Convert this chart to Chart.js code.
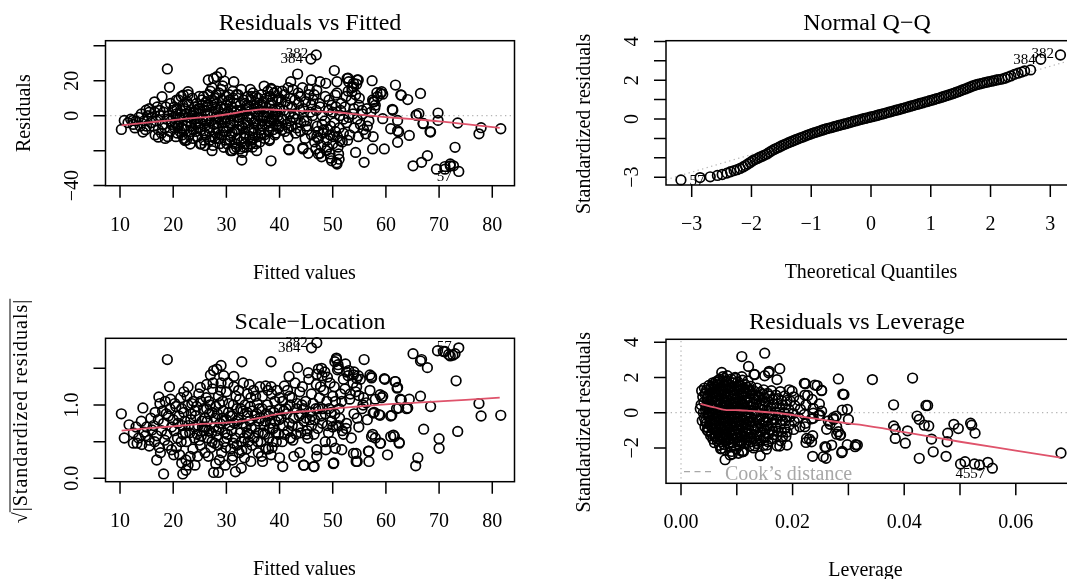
<!DOCTYPE html>
<html>
<head>
<title>lm diagnostics</title>
<script src="https://cdn.jsdelivr.net/npm/chart.js"></script>
<style>
html, body { margin: 0; padding: 0; overflow: hidden; background: #fff; }
body { position: relative; width: 1067px; height: 579px; }
canvas { position: absolute; }
</style>
</head>
<body>
<canvas id="rvf" width="533" height="290" style="left:0px;top:0px"></canvas>
<canvas id="qq" width="560" height="290" style="left:533px;top:0px"></canvas>
<canvas id="sl" width="533" height="289" style="left:0px;top:290px"></canvas>
<canvas id="lev" width="560" height="289" style="left:533px;top:290px"></canvas>
<script>
// ---- data ----
const fittedTicks = [10, 20, 30, 40, 50, 60, 70, 80];
const fittedTickLabels = ['10', '20', '30', '40', '50', '60', '70', '80'];
const residTicks = [-40, -20, 0, 20, 40];
const residTickLabels = ['\u221240', '', '0', '20', ''];
const qqXTicks = [-3, -2, -1, 0, 1, 2, 3];
const qqXTickLabels = ['\u22123', '\u22122', '\u22121', '0', '1', '2', '3'];
const qqYTicks = [-3, -2, -1, 0, 1, 2, 3, 4];
const qqYTickLabels = ['\u22123', '', '', '0', '', '2', '', '4'];
const slYTicks = [0, 0.5, 1, 1.5];
const slYTickLabels = ['0.0', '', '1.0', ''];
const levXTicks = [0, 0.01, 0.02, 0.03, 0.04, 0.05, 0.06, 0.07];
const levXTickLabels = ['0.00', '', '0.02', '', '0.04', '', '0.06', ''];
const levYTicks = [-2, 0, 2, 4];
const levYTickLabels = ['\u22122', '0', '2', '4'];

// Residuals vs Fitted
const rvfOuter = [[10.25,-7.9],[10.8,-2.7],[12.4,-2.7],[14.3,-9.4],[14.9,3.1],[16.5,7.9],[17.2,-12.3],[17.9,10.8],[18.9,26.7],[19.3,16.2],[20.6,8.8],[21.9,11.7],[22.8,13.7],[22.2,-14.2],[23.2,-16.2],[25.1,-16.2],[26.0,-17.1],[27.3,-20],[26.6,20.4],[27.6,21.3],[28.2,22.3],[29.0,24.6],[29.6,19.8],[31.4,19.4],[29.5,-18.1],[31.1,-20],[32.9,-25.4],[33.3,-18.1],[34.6,-16.2],[37.1,16.9],[38.4,15.6],[38.1,-14.2],[38.4,-25.8],[41.6,-12.3],[41.8,-19.6],[42.1,19.4],[43.4,23.8],[44.4,-19],[45.4,-21.5],[46.0,20.4],[47.0,14.6],[47.6,19.4],[47.3,-21.9],[47.9,-23.5],[48.7,18.5],[49.5,-21.9],[50.3,25.8],[50.8,19.4],[50.5,11.7],[49.8,-25.8],[50.8,-27.7],[51.1,-21.9],[51.4,-14.2],[52.7,21.3],[53.0,19.4],[53.9,16.5],[54.6,20.4],[53.6,13.7],[54.3,-21],[55.9,-26.7],[56.2,-10.4],[57.4,20],[57.5,-19],[57.8,7.9],[58.4,10.8],[59.0,12.7],[59.4,12.3],[59.7,-19],[59.4,-1.7],[60.9,-7.5],[61.3,3.1],[61.8,17.5],[62.2,-2.7],[62.4,-9.4],[62.2,-15.2],[62.9,11.7],[64.1,9.2],[64.4,-11.3],[65.1,-28.7],[65.7,0.2],[66.2,1.2],[66.5,12.7],[67,-4.6],[66.7,-26.7],[67.8,-22.9],[68.4,-9.4],[69.8,1.5],[69.8,-2.7],[69.5,-30.6],[71.1,-30.6],[72.1,-28.7],[72.7,-28.7],[73.0,-18.1],[73.5,-4.2],[73.7,-31.9],[77.5,-10.4],[77.9,-6.9],[81.6,-7.5],[46.9,34.7],[45.9,32.4],[58.3,13.1],[59.2,13.7],[57.6,8],[57.9,4.2],[53.9,18.5],[54.8,20.4],[52.9,21.4],[51.2,-24.9],[50.7,-26.9],[49.6,-24.3],[47.6,-21.5],[44.4,-18.3],[41.7,-19.2],[38.1,-13.5],[62.8,11.8],[61.2,3.6],[62.2,-8.6],[67.0,-4.4],[68.3,-9.1],[65.7,0.4],[72.1,-27.6],[71.1,-29.1]];
const rvfCore = [[11.5,-4],[12,-2],[12.5,-5],[13,-3],[13.5,-1],[13.8,-6],[12.8,-7],[14,1],[14.5,-3],[15,-6],[15.2,0],[15.5,2],[15.8,-4],[14.8,-8],[16,-1],[15.5,4],[16.3,-6],[16.5,2],[16.8,-3],[17,5],[17.2,-8],[17.5,0],[17.8,-10],[17.5,3],[16.6,-11],[18,-5],[18.2,2],[18.4,-7],[18.6,5],[18.8,-2],[19,-12],[19.2,0],[19.5,7],[19.7,-5],[19.9,3],[18.5,-13],[19.4,-9],[20,-1],[20.2,5],[20.4,-4],[20.6,1],[20.8,-10],[21,9],[21.2,-2],[21.4,3],[21.6,-7],[21.8,6],[22,-13],[20.5,-12],[21.5,11],[22,0],[21,-5],[22.2,4],[22.4,-6],[22.6,8],[22.8,-1],[23,-11],[23.2,2],[23.4,-4],[23.6,10],[23.8,-8],[24,5],[22.5,-14],[23.5,0],[24,-2],[22.8,12],[23.3,-9],[24.2,-5],[24.4,7],[24.6,-12],[24.8,1],[25,4],[25.2,-8],[25.4,9],[25.6,-2],[25.8,-14],[26,3],[24.5,-1],[25.5,6],[26,-6],[24.9,11],[25.3,-16],[26.2,8],[26.4,-3],[26.6,12],[26.8,-9],[27,2],[27.2,-12],[27.4,6],[27.6,-5],[27.8,10],[28,-1],[26.5,0],[27,14],[27.5,-17],[28,4],[26.8,-7],[27.3,16],[28,-10],[28.2,7],[28.4,-4],[28.6,13],[28.8,-11],[29,1],[29.2,9],[29.4,-7],[29.6,4],[29.8,-14],[30,11],[28.5,-1],[29,15],[29.5,-2],[30,6],[28.8,-16],[29.3,17],[30,-9],[28.4,3],[30.2,2],[30.4,-6],[30.6,9],[30.8,-12],[31,5],[31.2,14],[31.4,-3],[31.6,-16],[31.8,7],[32,-8],[30.5,12],[31,0],[31.5,-19],[32,3],[30.8,-20],[31.3,10],[32,-13],[30.3,-2],[32.2,12],[32.4,-5],[32.6,6],[32.8,-15],[33,1],[33.2,9],[33.4,-10],[33.6,3],[33.8,-18],[34,11],[32.5,-1],[33,-21],[33.5,7],[34,-4],[32.8,15],[33.3,-13],[34,0],[32.3,-8],[34.2,5],[34.4,-12],[34.6,9],[34.8,-2],[35,13],[35.2,-7],[35.4,2],[35.6,-16],[35.8,7],[36,-5],[34.5,15],[35,-10],[35.5,11],[36,0],[34.8,-14],[35.3,4],[36,10],[36.2,3],[36.4,-8],[36.6,12],[36.8,-3],[37,8],[37.2,-13],[37.4,5],[37.6,-1],[37.8,14],[38,2],[36.5,-10],[37,0],[37.5,10],[38,-6],[36.8,6],[37.3,-5],[38.2,11],[38.4,-2],[38.6,6],[38.8,-8],[39,13],[39.2,1],[39.4,-5],[39.6,9],[39.8,-7],[40,4],[38.5,15],[39,-3],[39.5,14],[40,-6],[38.8,3],[39.7,0],[40.3,8],[40.6,-2],[40.9,12],[41.2,-5],[41.5,6],[41.8,1],[42,10],[40.5,14],[41,-9],[41.6,16],[42,-3],[40.8,3],[42.3,5],[42.6,-1],[42.9,9],[43.2,-7],[43.5,13],[43.8,3],[44,-4],[42.5,15],[43,-10],[43.6,7],[44,11],[42.8,1],[44.3,16],[44.6,-3],[44.9,8],[45.2,-8],[45.5,12],[45.8,2],[46,-11],[44.5,4],[45,-6],[45.6,15],[46,6],[44.8,-13],[46.3,9],[46.6,-15],[46.9,3],[47.2,-9],[47.5,7],[47.8,-17],[48,0],[46.5,12],[47,-12],[47.6,5],[48,-5],[46.8,-19],[47.3,-13],[48.3,-8],[48.6,11],[48.9,-14],[49.2,3],[49.5,-11],[49.8,6],[50,-16],[48.5,-3],[49,-18],[49.6,-6],[50,2],[48.8,-20],[49.3,9],[50.3,-4],[50.6,5],[50.9,-12],[51.2,-7],[51.5,3],[51.8,-15],[52,-2],[50.5,-9],[51,-18],[51.6,7],[52,-10],[50.8,13],[51.3,0],[52.3,5],[52.6,-4],[52.9,14],[53.2,-11],[53.5,9],[53.8,1],[54,-7],[52.5,11],[53,-1],[53.6,16],[54,4],[52.8,-14],[54.3,12],[54.6,-2],[54.9,6],[55.2,-5],[55.5,3],[55.8,-8],[54.5,18],[55,10],[55.6,1],[54.8,-12],[56.4,4],[56.8,-3],[57.2,2],[57.6,-12],[58,6],[56.5,-6],[57.5,9]];
const rvfFill = [[21.3,-9],[22.7,-3],[23.9,2],[24.7,-7],[25.9,-10],[26.3,5],[27.9,-13],[28.3,-7],[29.7,-4],[30.1,-16],[31.5,-9],[32.1,-1],[32.9,-6],[33.7,-12],[34.3,-8],[35.1,-4],[35.9,-12],[36.3,-15],[37.9,-9],[38.3,7],[39.3,-10],[39.9,10],[31.9,-18],[32.6,-19],[34.9,-18],[35.7,-20],[30.7,-14],[29.2,-11],[27.7,8],[26.1,-3],[24.3,3],[22.1,-8],[20.9,-6],[19.6,-3],[30.9,3],[33.9,6],[36.9,-1],[38.9,-1],[20.3,-7],[20.7,4],[21.3,-1],[21.7,-11],[22.3,1],[22.9,6],[23.3,-6],[23.7,-13],[24.3,-9],[24.7,4],[25.1,-4],[25.7,11],[26.1,-11],[26.5,6],[26.9,-14],[27.1,-3],[27.7,1],[28.1,12],[28.5,-13],[28.9,5],[29.1,-4],[29.5,-9],[29.9,-1],[30.3,8],[30.7,-4],[31.1,-10],[31.5,2],[31.9,12],[32.3,-3],[32.7,3],[33.1,-7],[33.5,-16],[33.9,4],[34.3,-1],[34.7,11],[35.1,-13],[35.5,-3],[35.9,4],[36.3,6],[36.7,-6],[37.1,-11],[37.5,2],[37.9,-3],[38.3,-4],[38.7,9],[39.1,-11],[39.5,3],[39.9,-3],[40.4,-8],[41.1,8],[41.7,-7],[42.2,-6],[43.1,-2],[43.9,-9],[45.1,-3],[46.2,0],[47.1,-6],[48.2,-10],[49.1,-8],[50.1,-12]];
const rvfSmooth = [[10.3,-5.5],[15,-4],[19,-2.8],[23,-1.6],[27.5,-0.4],[31,1.2],[34,2.7],[37,3.6],[40,3.2],[45,2.6],[50,2.1],[55,0.6],[60,-0.8],[65,-2.0],[70,-3.3],[75,-4.9],[81.4,-7.0]];

// Normal Q-Q
const qqTheo = [-3.18,-2.86,-2.69,-2.57,-2.49,-2.41,-2.35,-2.29,-2.24,-2.19,-2.14,-2.10,-2.06,-2.02,-1.98,-1.94,-1.90,-1.86,-1.82,-1.78,-1.74,-1.70,-1.66,-1.62,-1.58,-1.54,-1.50,-1.46,-1.42,-1.38,-1.34,-1.30,-1.26,-1.22,-1.18,-1.14,-1.10,-1.06,-1.02,-0.98,-0.94,-0.90,-0.86,-0.82,-0.78,-0.74,-0.70,-0.66,-0.62,-0.58,-0.54,-0.50,-0.46,-0.42,-0.38,-0.34,-0.30,-0.26,-0.22,-0.18,-0.14,-0.10,-0.06,-0.02,0.02,0.06,0.10,0.14,0.18,0.22,0.26,0.30,0.34,0.38,0.42,0.46,0.50,0.54,0.58,0.62,0.66,0.70,0.74,0.78,0.82,0.86,0.90,0.94,0.98,1.02,1.06,1.10,1.14,1.18,1.22,1.26,1.30,1.34,1.38,1.42,1.46,1.50,1.54,1.58,1.62,1.66,1.70,1.74,1.78,1.82,1.86,1.90,1.94,1.98,2.02,2.06,2.10,2.14,2.19,2.24,2.29,2.34,2.40,2.46,2.52,2.57,2.67,2.84,3.17];
const qqStdRes = [-3.14,-3.02,-2.98,-2.91,-2.86,-2.79,-2.72,-2.66,-2.61,-2.55,-2.47,-2.40,-2.32,-2.24,-2.15,-2.09,-2.03,-1.97,-1.92,-1.86,-1.80,-1.72,-1.64,-1.57,-1.51,-1.45,-1.39,-1.33,-1.28,-1.22,-1.17,-1.12,-1.07,-1.02,-0.97,-0.93,-0.88,-0.83,-0.79,-0.74,-0.70,-0.66,-0.62,-0.58,-0.54,-0.50,-0.47,-0.44,-0.40,-0.37,-0.33,-0.30,-0.27,-0.24,-0.20,-0.17,-0.13,-0.10,-0.07,-0.03,0.00,0.03,0.06,0.09,0.12,0.15,0.18,0.22,0.25,0.28,0.32,0.35,0.38,0.42,0.45,0.48,0.52,0.55,0.59,0.62,0.66,0.69,0.73,0.76,0.80,0.83,0.87,0.90,0.94,0.97,1.01,1.05,1.08,1.12,1.16,1.20,1.24,1.28,1.32,1.37,1.41,1.46,1.51,1.55,1.60,1.65,1.70,1.74,1.78,1.81,1.84,1.87,1.90,1.93,1.95,1.98,2.01,2.03,2.06,2.10,2.16,2.22,2.30,2.36,2.42,2.48,2.53,3.08,3.30];
const qqLineX = [-3.43, 3.43];
const qqLineY = [-3.13, 3.11];

// Scale-Location
const slOuter = [[10.25,0.88],[10.8,0.55],[11.7,0.73],[12.5,0.48],[14.3,0.96],[14.1,0.46],[15.5,0.44],[16.9,0.25],[17.3,1.11],[17.6,0.35],[18.2,0.06],[18.9,1.62],[19.3,1.25],[19.7,0.39],[20.1,0.32],[21.6,0.21],[21.8,0.06],[22.4,0.11],[22.8,1.25],[22.8,0.18],[24.1,0.18],[25.1,1.24],[26.3,1.28],[27.0,1.41],[27.6,1.47],[28.2,1.49],[29.0,1.54],[29.5,1.40],[27.6,0.08],[28.5,0.08],[29.8,0.18],[31.1,0.25],[31.4,1.39],[31.7,0.09],[32.9,1.59],[32.8,0.14],[34.3,1.28],[34.6,0.23],[36.8,0.23],[37.4,1.26],[38.4,1.59],[38.4,0.32],[40.0,0.28],[40.6,0.16],[40.9,1.26],[41.8,1.39],[42.1,0.55],[42.7,0.30],[43.4,1.51],[43.8,0.35],[44.6,0.18],[45.1,0.60],[45.4,1.44],[46.5,0.16],[47.0,0.39],[47.0,0.30],[47.3,1.49],[47.9,1.50],[48.7,0.39],[48.6,0.50],[49.8,0.50],[50.2,0.21],[50.5,0.41],[50.7,1.62],[51.1,1.50],[51.7,0.39],[52.4,1.56],[53.0,1.47],[53.9,0.34],[54.4,0.23],[54.8,1.40],[54.9,1.13],[55.9,1.62],[56.3,1.03],[56.8,0.37],[56.8,0.23],[57.3,1.39],[57.6,0.89],[58.0,0.55],[58.7,0.87],[59.0,0.48],[59.4,1.12],[59.7,1.36],[60.3,0.32],[61.1,0.86],[60.9,0.57],[61.6,0.57],[61.8,1.32],[62.2,1.24],[62.5,0.49],[62.9,1.07],[62.4,0.96],[64.1,0.96],[64.4,1.08],[65.1,1.70],[65.6,0.17],[66.0,0.28],[66.5,1.12],[66.7,1.62],[67.1,0.67],[67.8,1.51],[68.4,0.98],[69.7,1.74],[70.0,0.54],[70.0,0.41],[71.1,1.73],[71.8,1.69],[72.1,1.67],[73.0,1.70],[73.2,1.33],[73.5,0.64],[73.7,1.78],[77.5,1.02],[77.9,0.85],[81.6,0.86],[47.0,1.85],[46.0,1.78],[66.5,1.60],[70.8,1.73],[72.6,1.68],[62.7,1.08],[63.9,0.95],[62.0,0.95],[60.9,0.85],[58.9,0.86],[57.8,0.90],[61.4,0.59],[62.5,0.48],[58.9,0.48],[57.3,0.57],[56.7,0.37],[54.6,0.23],[54.4,0.34],[50.1,0.20],[46.4,0.16],[44.5,0.18],[59.8,1.35],[61.7,1.32],[62.1,1.23],[58.9,1.14],[59.2,1.10],[57.3,1.37],[57.0,1.41],[53.9,1.41],[54.5,1.36],[52.6,1.45],[50.7,1.64],[50.4,1.59],[55.7,1.00]];
const slCore = [[12.5,0.62],[13,0.7],[13.5,0.55],[14,0.78],[14.5,0.63],[15,0.7],[15.5,0.52],[15.8,0.82],[13.2,0.48],[14.8,0.58],[16,0.66],[16.3,0.72],[16.6,0.9],[16.9,0.58],[17.2,0.8],[17.5,1.02],[17.8,0.65],[16.5,0.5],[17.4,0.42],[18,0.92],[18.2,0.75],[18.5,1.05],[18.8,0.6],[19.1,0.85],[19.4,0.95],[19.7,0.7],[18.4,0.52],[19,0.45],[20,0.8],[19.5,1.08],[18.7,0.88],[20.2,0.65],[20.5,0.98],[20.8,0.55],[21.1,0.85],[21.4,1.1],[21.7,0.72],[22,0.9],[20.6,0.42],[21.2,0.32],[21.8,0.6],[20.3,1.02],[22,1.18],[22.2,0.78],[22.5,0.5],[22.8,1.0],[23.1,0.62],[23.4,0.88],[23.7,0.4],[24,0.7],[22.6,1.12],[23.2,0.3],[23.8,1.05],[22.4,0.25],[24,0.55],[24.2,0.85],[24.5,0.6],[24.8,1.15],[25.1,0.45],[25.4,0.78],[25.7,0.95],[26,0.35],[24.6,0.3],[25.2,1.05],[25.8,0.65],[24.4,0.98],[26,0.82],[26.2,1.1],[26.5,0.55],[26.8,0.88],[27.1,0.42],[27.4,1.22],[27.7,0.7],[28,0.98],[26.6,0.3],[27.2,0.62],[27.8,0.48],[26.4,0.78],[27.5,1.3],[28,0.2],[26.9,1.0],[28.2,0.58],[28.5,1.12],[28.8,0.75],[29.1,0.35],[29.4,0.92],[29.7,0.62],[30,1.18],[28.4,0.45],[29,1.3],[29.6,0.5],[28.7,0.25],[30,0.8],[29.3,1.05],[28.3,0.88],[30.2,0.6],[30.5,1.02],[30.8,0.4],[31.1,0.85],[31.4,1.25],[31.7,0.55],[32,0.95],[30.6,0.72],[31.2,0.3],[31.8,1.12],[30.3,1.3],[32,0.45],[31,0.65],[32.2,0.8],[32.5,1.08],[32.8,0.5],[33.1,0.92],[33.4,0.28],[33.7,0.7],[34,1.15],[32.6,0.62],[33.2,1.3],[33.8,0.4],[32.4,0.35],[34,0.85],[33,0.75],[34.2,0.6],[34.5,0.98],[34.8,0.45],[35.1,1.2],[35.4,0.7],[35.7,0.88],[36,0.35],[34.6,1.1],[35.2,0.55],[35.8,1.02],[34.4,0.78],[36,0.62],[36.2,0.95],[36.5,0.5],[36.8,1.12],[37.1,0.72],[37.4,0.4],[37.7,1.0],[38,0.85],[36.6,0.3],[37.2,0.6],[37.8,1.2],[36.4,0.82],[38,0.55],[38.2,0.92],[38.5,1.15],[38.8,0.68],[39.1,1.05],[39.4,0.5],[39.7,0.85],[40,1.1],[38.6,0.42],[39.2,0.78],[39.8,0.6],[38.4,1.25],[40,0.95],[40.3,0.82],[40.6,1.05],[40.9,0.6],[41.2,0.95],[41.5,1.2],[41.8,0.75],[42,1.0],[40.5,0.5],[41.3,0.88],[42,0.55],[42.3,1.1],[42.6,0.82],[42.9,1.3],[43.2,0.95],[43.5,0.7],[43.8,1.18],[44,0.88],[42.5,0.52],[43.3,1.02],[44,0.62],[44.3,1.25],[44.6,0.78],[44.9,1.05],[45.2,0.65],[45.5,1.35],[45.8,0.9],[46,1.15],[44.5,0.95],[45.3,0.55],[46,0.72],[46.3,1.02],[46.6,0.8],[46.9,1.28],[47.2,0.68],[47.5,1.1],[47.8,0.85],[48,1.4],[46.5,0.6],[47.3,0.95],[48,0.75],[47,1.42],[48.3,1.2],[48.6,0.88],[48.9,1.05],[49.2,0.62],[49.5,1.3],[49.8,0.78],[50,1.12],[48.5,1.45],[49.3,0.95],[50,0.7],[49,1.38],[50.3,1.25],[50.6,0.72],[50.9,1.48],[51.2,0.95],[51.5,1.15],[51.8,0.65],[52,1.35],[50.5,1.05],[51.3,0.82],[52,0.6],[51,1.55],[52.3,1.22],[52.6,0.75],[52.9,1.4],[53.2,1.08],[53.5,0.55],[53.8,1.3],[54,0.88],[52.5,0.68],[53.3,1.15],[54,1.45],[54.3,1.18],[54.6,0.82],[54.9,0.7],[55.2,1.35],[55.5,0.95],[55.8,1.1],[54.5,1.25],[56.5,0.8],[57,1.2],[57.5,0.6],[58,1.08]];
const slFill = [[21.5,0.5],[22.9,0.72],[23.5,1.02],[24.9,0.52],[25.5,0.7],[26.7,0.65],[27.3,0.9],[28.6,0.68],[29.2,0.82],[29.9,0.42],[30.4,0.9],[31.5,0.75],[32.3,1.2],[32.9,0.38],[33.5,1.0],[34.1,0.5],[34.9,0.92],[35.5,1.12],[36.1,0.78],[36.9,0.62],[37.5,0.88],[38.1,0.68],[38.9,0.9],[39.5,1.2],[26.3,0.95],[28.9,1.2],[31.3,1.0],[33.9,0.62],[36.3,1.25],[38.7,0.5],[40.7,0.72],[41.9,1.12],[43.7,0.85],[45.7,0.8],[47.7,1.25],[49.7,0.9],[51.7,1.05],[20.9,0.75],[21.6,0.95],[22.3,0.62],[23.3,0.8],[24.1,0.92],[24.7,0.72],[25.3,0.58],[26.1,0.7],[26.7,1.05],[27.3,0.5],[27.9,0.82],[28.1,0.65],[28.7,1.02],[29.5,0.78],[30.1,0.55],[30.7,0.85],[31.3,0.48],[31.9,0.78],[32.7,0.95],[33.3,0.55],[33.9,0.9],[34.7,0.68],[35.3,0.85],[35.9,0.5],[36.7,0.95],[37.3,0.78],[37.9,0.4],[38.3,0.75],[39.3,0.62],[39.9,0.8],[40.8,0.92],[41.6,0.65],[42.4,0.72],[43.1,0.6],[44.2,1.0],[45.0,0.82],[46.1,0.85],[46.8,0.95],[48.1,0.95],[49.0,0.72],[50.4,0.88],[51.1,0.72]];
const slSmooth = [[10.3,0.65],[15,0.68],[20,0.71],[25,0.74],[30,0.76],[33,0.78],[36,0.82],[39,0.87],[42,0.9],[46,0.92],[50,0.95],[55,0.98],[60,1.01],[65,1.03],[70,1.05],[75,1.07],[81.4,1.10]];

// Residuals vs Leverage
const levOuter = [[0.00345,0.23],[0.0109,3.19],[0.0121,2.63],[0.0132,2.16],[0.0150,3.38],[0.0150,2.10],[0.0158,2.35],[0.0172,1.88],[0.0177,2.50],[0.0073,2.29],[0.0079,-2.67],[0.0073,-2.03],[0.0092,-2.35],[0.0110,-2.22],[0.0142,-2.44],[0.0132,-1.88],[0.0153,-2.07],[0.0172,-1.88],[0.0190,-1.84],[0.0199,1.22],[0.0223,1.65],[0.0224,-1.69],[0.0227,0.98],[0.0230,-1.5],[0.0236,-1.31],[0.0236,-2.48],[0.0244,1.54],[0.0252,1.28],[0.0252,0.09],[0.0260,-1.97],[0.0260,-2.59],[0.0261,-0.94],[0.0264,-0.47],[0.0273,-0.28],[0.0278,-0.19],[0.0282,1.92],[0.0279,-1.22],[0.0286,-1.26],[0.0289,0.15],[0.0292,1.03],[0.0289,-2.2],[0.0298,0.19],[0.0298,-1.82],[0.0300,-0.38],[0.0313,-1.82],[0.0316,-1.84],[0.0343,1.88],[0.0381,0.45],[0.0381,-0.75],[0.0384,-0.94],[0.0384,-1.46],[0.0402,-1.73],[0.0406,-1.03],[0.0415,1.97],[0.0423,-0.19],[0.0427,-0.38],[0.0427,-2.59],[0.0436,-0.71],[0.0439,0.41],[0.0442,0.41],[0.0444,-0.75],[0.0449,-1.5],[0.0452,-2.22],[0.0477,-1.65],[0.0478,-1.16],[0.0475,-2.48],[0.0489,-0.66],[0.0497,-0.9],[0.0501,-2.91],[0.0509,-2.78],[0.0519,-0.6],[0.0521,-0.71],[0.0527,-1.16],[0.0526,-2.91],[0.0535,-2.97],[0.0550,-2.82],[0.0558,-3.15],[0.0681,-2.29],[0.0131,2.18],[0.0157,2.27],[0.0221,1.67],[0.0240,1.57],[0.0252,1.25],[0.0290,1.06],[0.0088,-2.4],[0.0103,-2.31],[0.0112,-2.21],[0.0154,-1.84],[0.0177,-1.89],[0.0222,-0.8],[0.0237,-0.32],[0.0237,-0.03],[0.0249,-0.13],[0.0225,-1.46],[0.0234,-1.65],[0.0258,-1.93],[0.0255,-2.5],[0.0282,-1.08],[0.0285,-1.27],[0.0274,-0.38],[0.0267,-0.66],[0.0279,-0.8],[0.0270,-1.84],[0.0288,-2.27],[0.0312,-1.93]];
const levCore = [[0.0037,1.25],[0.0039,0.9],[0.0036,0.45],[0.0040,0.0],[0.0038,-0.45],[0.0042,1.4],[0.0043,1.05],[0.0041,0.6],[0.0044,0.15],[0.0042,-0.3],[0.0043,-0.8],[0.0046,1.3],[0.0047,0.8],[0.0045,0.3],[0.0048,-0.15],[0.0046,-0.6],[0.0047,-1.0],[0.0050,1.55],[0.0052,1.1],[0.0049,0.65],[0.0051,0.2],[0.0050,-0.25],[0.0052,-0.7],[0.0049,-1.05],[0.0053,1.35],[0.0054,1.45],[0.0056,0.95],[0.0053,0.5],[0.0055,0.05],[0.0054,-0.4],[0.0056,-0.85],[0.0055,-1.2],[0.0057,1.7],[0.0058,1.6],[0.0060,1.2],[0.0057,0.75],[0.0059,0.3],[0.0058,-0.1],[0.0060,-0.55],[0.0059,-0.95],[0.0061,-1.35],[0.0060,-1.7],[0.0062,1.75],[0.0064,1.35],[0.0061,0.9],[0.0063,0.45],[0.0062,0.0],[0.0064,-0.45],[0.0063,-0.9],[0.0062,-1.3],[0.0065,-1.6],[0.0063,1.05],[0.0066,1.55],[0.0068,1.1],[0.0065,0.65],[0.0067,0.2],[0.0066,-0.25],[0.0068,-0.7],[0.0067,-1.15],[0.0066,-1.5],[0.0069,-1.85],[0.0067,1.85],[0.0070,1.9],[0.0072,1.45],[0.0069,1.0],[0.0071,0.55],[0.0070,0.1],[0.0072,-0.35],[0.0071,-0.8],[0.0070,-1.25],[0.0073,-1.65],[0.0071,-2.05],[0.0074,1.7],[0.0076,1.25],[0.0073,0.8],[0.0075,0.35],[0.0074,-0.1],[0.0076,-0.55],[0.0075,-1.0],[0.0074,-1.4],[0.0077,-1.8],[0.0075,2.05],[0.0078,1.95],[0.0080,1.5],[0.0077,1.05],[0.0079,0.6],[0.0078,0.15],[0.0080,-0.3],[0.0079,-0.75],[0.0078,-1.2],[0.0081,-1.6],[0.0079,-2.1],[0.0082,1.8],[0.0084,1.35],[0.0081,0.9],[0.0083,0.45],[0.0082,0.0],[0.0084,-0.45],[0.0083,-0.9],[0.0082,-1.35],[0.0085,-1.75],[0.0083,2.1],[0.0086,1.6],[0.0088,1.15],[0.0085,0.7],[0.0087,0.25],[0.0086,-0.2],[0.0088,-0.65],[0.0087,-1.1],[0.0086,-1.5],[0.0089,-1.95],[0.0090,1.9],[0.0092,1.45],[0.0089,1.0],[0.0091,0.55],[0.0090,0.1],[0.0092,-0.35],[0.0091,-0.8],[0.0090,-1.25],[0.0093,-1.7],[0.0091,-2.2],[0.0094,1.7],[0.0096,1.25],[0.0093,0.8],[0.0095,0.35],[0.0094,-0.1],[0.0096,-0.55],[0.0095,-1.0],[0.0094,-1.45],[0.0097,2.0],[0.0098,1.95],[0.0100,1.5],[0.0097,1.05],[0.0099,0.6],[0.0098,0.15],[0.0100,-0.3],[0.0099,-0.75],[0.0098,-1.2],[0.0101,-1.65],[0.0099,-2.05],[0.0102,1.75],[0.0104,1.3],[0.0101,0.85],[0.0103,0.4],[0.0102,-0.05],[0.0104,-0.5],[0.0103,-0.95],[0.0102,-1.4],[0.0105,-1.85],[0.0106,1.55],[0.0108,1.1],[0.0105,0.65],[0.0107,0.2],[0.0106,-0.25],[0.0108,-0.7],[0.0107,-1.15],[0.0106,-1.6],[0.0109,2.05],[0.0110,1.85],[0.0112,1.4],[0.0109,0.95],[0.0111,0.5],[0.0110,0.05],[0.0112,-0.4],[0.0111,-0.85],[0.0110,-1.3],[0.0113,-1.75],[0.0111,-2.15],[0.0115,1.6],[0.0117,1.15],[0.0114,0.7],[0.0116,0.25],[0.0115,-0.2],[0.0117,-0.65],[0.0116,-1.1],[0.0115,-1.55],[0.0120,1.8],[0.0122,1.3],[0.0119,0.85],[0.0121,0.4],[0.0120,-0.05],[0.0122,-0.5],[0.0121,-0.95],[0.0120,-1.4],[0.0123,-1.9],[0.0125,1.5],[0.0127,1.05],[0.0124,0.6],[0.0126,0.15],[0.0125,-0.3],[0.0127,-0.75],[0.0126,-1.2],[0.0125,-1.65],[0.0130,1.25],[0.0132,0.8],[0.0129,0.35],[0.0131,-0.1],[0.0130,-0.55],[0.0132,-1.0],[0.0131,-1.45],[0.0130,-2.0],[0.0136,1.4],[0.0138,0.95],[0.0135,0.5],[0.0137,0.05],[0.0136,-0.4],[0.0138,-0.85],[0.0137,-1.3],[0.0136,-1.75],[0.0142,1.15],[0.0144,0.7],[0.0141,0.25],[0.0143,-0.2],[0.0142,-0.65],[0.0144,-1.1],[0.0143,-1.55],[0.0148,1.3],[0.0150,0.85],[0.0147,0.4],[0.0149,-0.05],[0.0148,-0.5],[0.0150,-0.95],[0.0149,-1.4],[0.0148,-1.85],[0.0155,1.1],[0.0157,0.6],[0.0154,0.15],[0.0156,-0.3],[0.0155,-0.75],[0.0157,-1.2],[0.0156,-1.65],[0.0162,1.25],[0.0164,0.75],[0.0161,0.3],[0.0163,-0.15],[0.0162,-0.6],[0.0164,-1.05],[0.0163,-1.5],[0.0170,1.0],[0.0172,0.5],[0.0169,0.05],[0.0171,-0.4],[0.0170,-0.85],[0.0172,-1.3],[0.0178,1.2],[0.0180,0.7],[0.0177,0.25],[0.0179,-0.2],[0.0178,-0.65],[0.0180,-1.1],[0.0179,-1.6],[0.0186,0.95],[0.0188,0.45],[0.0185,0.0],[0.0187,-0.45],[0.0186,-0.9],[0.0188,-1.35],[0.0194,1.3],[0.0196,0.65],[0.0193,0.2],[0.0195,-0.25],[0.0194,-0.7],[0.0202,0.9],[0.0204,0.4],[0.0201,-0.05],[0.0203,-0.5],[0.0202,-0.95],[0.0212,0.7],[0.0214,0.2],[0.0211,-0.3],[0.0213,-0.8],[0.0222,1.0],[0.0224,0.45],[0.0221,-0.1],[0.0223,-0.6],[0.0235,0.75],[0.0237,0.25],[0.0234,-0.35],[0.0248,0.5],[0.0247,-0.15]];
const levFill = [[0.0044,1.15],[0.0045,0.4],[0.0044,-0.5],[0.0048,1.0],[0.0049,0.0],[0.0048,-0.85],[0.0052,1.3],[0.0053,0.4],[0.0052,-0.5],[0.0053,-1.3],[0.0056,1.15],[0.0057,0.25],[0.0056,-0.65],[0.0057,-1.5],[0.0060,1.45],[0.0061,0.55],[0.0060,-0.35],[0.0061,-1.15],[0.0064,1.6],[0.0065,0.7],[0.0064,-0.2],[0.0065,-1.1],[0.0068,1.35],[0.0069,0.45],[0.0068,-0.45],[0.0069,-1.35],[0.0072,1.2],[0.0073,0.3],[0.0072,-0.6],[0.0073,-1.45],[0.0076,1.55],[0.0077,0.6],[0.0076,-0.3],[0.0077,-1.2],[0.0080,1.75],[0.0081,0.35],[0.0080,-0.5],[0.0081,-1.4],[0.0084,1.05],[0.0085,0.2],[0.0084,-0.7],[0.0085,-1.55],[0.0088,1.4],[0.0089,0.45],[0.0088,-0.4],[0.0089,-1.3],[0.0092,1.7],[0.0093,0.3],[0.0092,-0.6],[0.0093,-1.45],[0.0096,1.0],[0.0097,0.6],[0.0096,-0.3],[0.0097,-1.25],[0.0100,1.25],[0.0101,0.35],[0.0100,-0.55],[0.0101,-1.4],[0.0104,1.55],[0.0105,0.15],[0.0104,-0.75],[0.0105,-1.6],[0.0108,1.35],[0.0109,0.45],[0.0108,-0.45],[0.0109,-1.35],[0.0113,1.2],[0.0114,0.3],[0.0113,-0.6],[0.0114,-1.4],[0.0118,1.45],[0.0119,0.6],[0.0118,-0.3],[0.0119,-1.2],[0.0124,1.25],[0.0125,0.35],[0.0124,-0.5],[0.0125,-1.4],[0.0133,1.0],[0.0134,0.1],[0.0133,-0.75],[0.0134,-1.6],[0.0140,0.9],[0.0141,-0.4],[0.0140,-1.3],[0.0146,1.05],[0.0146,0.15],[0.0146,-0.75],[0.0152,0.6],[0.0152,-0.5],[0.0152,-1.4],[0.0159,0.95],[0.0159,-0.05],[0.0159,-0.95],[0.0166,0.5],[0.0166,-0.4],[0.0166,-1.25],[0.0174,0.8],[0.0174,-0.15],[0.0174,-1.05],[0.0182,0.45],[0.0182,-0.45],[0.0182,-1.35],[0.0190,0.7],[0.0190,-0.25],[0.0190,-1.1]];
const levSmooth = [[0.0035,0.5],[0.006,0.3],[0.0082,0.15],[0.0105,0.14],[0.0124,0.1],[0.0177,-0.03],[0.0225,-0.26],[0.0273,-0.5],[0.032,-0.68],[0.04,-1.1],[0.05,-1.65],[0.06,-2.15],[0.068,-2.55]];

// ---- drawing ----
const serif = '"Liberation Serif", "Times New Roman", serif';
const toXY = arr => arr.map(p => ({ x: p[0], y: p[1] }));

function circles(arr) {
  return { data: toXY(arr), showLine: false, pointStyle: 'circle', pointRadius: 4.8, pointBorderWidth: 1.7,
    pointBorderColor: '#000', pointBackgroundColor: 'rgba(0,0,0,0)', clip: false };
}
function smooth(arr) {
  return { data: toXY(arr), showLine: true, borderColor: '#DF536B', borderWidth: 1.8, pointRadius: 0,
    cubicInterpolationMode: 'monotone', fill: false };
}
function dotted(arr) {
  return { data: toXY(arr), showLine: true, borderColor: '#b4b4b4', borderWidth: 1.2, borderDash: [1.3, 3.4],
    pointRadius: 0, fill: false };
}

function framePlugin(c) {
  return {
    id: 'frame',
    afterDraw(chart) {
      const ctx = chart.ctx, a = chart.chartArea;
      const sx = chart.scales.x, sy = chart.scales.y;
      const cx = (a.left + a.right) / 2, cy = (a.top + a.bottom) / 2;
      ctx.save();
      ctx.strokeStyle = '#000';
      ctx.lineWidth = 1.5;
      ctx.strokeRect(a.left, a.top, a.right - a.left, a.bottom - a.top);
      ctx.beginPath();
      c.xTicks.forEach(v => { const p = sx.getPixelForValue(v); ctx.moveTo(p, a.bottom); ctx.lineTo(p, a.bottom + 12); });
      c.yTicks.forEach(v => { const p = sy.getPixelForValue(v); ctx.moveTo(a.left, p); ctx.lineTo(a.left - 12, p); });
      ctx.stroke();

      ctx.fillStyle = '#000';
      ctx.font = '20px ' + serif;
      ctx.textAlign = 'center';
      ctx.textBaseline = 'alphabetic';
      c.xTicks.forEach((v, i) => {
        if (c.xLabels[i]) ctx.fillText(c.xLabels[i], sx.getPixelForValue(v), a.bottom + 44.8);
      });
      c.yTicks.forEach((v, i) => {
        if (!c.yLabels[i]) return;
        ctx.save();
        ctx.translate(a.left - 27.7, sy.getPixelForValue(v));
        ctx.rotate(-Math.PI / 2);
        ctx.fillText(c.yLabels[i], 0, 0);
        ctx.restore();
      });
      ctx.fillText(c.xTitle, cx + c.xTitleDx, a.bottom + 93);

      ctx.save();
      ctx.translate(a.left - c.yTitleX, cy + c.yTitleDy);
      ctx.rotate(-Math.PI / 2);
      if (c.sqrt) {
        ctx.letterSpacing = '1px';
        const w = ctx.measureText(c.yTitle).width;
        const wr = ctx.measureText('\u221A').width;
        ctx.textAlign = 'left';
        ctx.fillText(c.yTitle, -w / 2, 0);
        ctx.lineWidth = 1;
        ctx.beginPath();
        ctx.moveTo(-w / 2 + wr - 1, -17);
        ctx.lineTo(w / 2, -17);
        ctx.stroke();
      } else {
        ctx.fillText(c.yTitle, 0, 0);
      }
      ctx.restore();

      ctx.font = '24px ' + serif;
      ctx.textAlign = 'center';
      ctx.fillText(c.title, cx + c.titleDx, c.titleY);

      ctx.font = '15px ' + serif;
      c.ids.forEach(d => {
        ctx.textAlign = d.align;
        ctx.fillText(d.text, sx.getPixelForValue(d.x) + d.dx, sy.getPixelForValue(d.y) + d.dy);
      });

      if (c.cook) {
        ctx.strokeStyle = '#a8a8a8';
        ctx.lineWidth = 1.2;
        ctx.setLineDash([6, 4.5]);
        ctx.beginPath();
        ctx.moveTo(a.left + 18, a.bottom - 11.6);
        ctx.lineTo(a.left + 49, a.bottom - 11.6);
        ctx.stroke();
        ctx.setLineDash([]);
        ctx.fillStyle = '#a8a8a8';
        ctx.font = '20px ' + serif;
        ctx.textAlign = 'left';
        ctx.fillText('Cook\u2019s distance', a.left + 59, a.bottom - 3.8);
      }
      ctx.restore();
    }
  };
}

function panel(id, o) {
  return new Chart(document.getElementById(id), {
    type: 'scatter',
    data: { datasets: o.datasets },
    options: {
      responsive: false,
      animation: false,
      events: [],
      layout: { padding: o.pad },
      plugins: { legend: { display: false }, tooltip: { enabled: false } },
      scales: {
        x: { type: 'linear', min: o.xr[0], max: o.xr[1], display: false },
        y: { type: 'linear', min: o.yr[0], max: o.yr[1], display: false }
      }
    },
    plugins: [framePlugin(o.frame)]
  });
}

function draw() {
  panel('rvf', {
    pad: { left: 105.5, top: 40.7, right: 18.5, bottom: 104.3 },
    xr: [7.27, 84.18], yr: [-40.05, 42.86],
    datasets: [smooth(rvfSmooth), circles(rvfOuter.concat(rvfCore, rvfFill)), dotted([[7.27, 0], [84.18, 0]])],
    frame: {
      title: 'Residuals vs Fitted', titleDx: 0, titleY: 30,
      xTitle: 'Fitted values', xTitleDx: -5.5,
      yTitle: 'Residuals', yTitleX: 76, yTitleDy: 0,
      xTicks: fittedTicks, xLabels: fittedTickLabels, yTicks: residTicks, yLabels: residTickLabels,
      ids: [
        { x: 46.9, y: 34.7, text: '382', dx: -8, dy: 3, align: 'right' },
        { x: 45.9, y: 32.4, text: '384', dx: -8, dy: 4, align: 'right' },
        { x: 73.7, y: -31.9, text: '57', dx: -7, dy: 10, align: 'right' }
      ]
    }
  });

  panel('qq', {
    pad: { left: 133, top: 40.7, right: 17, bottom: 105 },
    xr: [-3.43, 3.43], yr: [-3.402, 4.036],
    datasets: [circles(qqTheo.map((v, i) => [v, qqStdRes[i]])), dotted(qqLineX.map((v, i) => [v, qqLineY[i]]))],
    frame: {
      title: 'Normal Q\u2212Q', titleDx: -4, titleY: 30,
      xTitle: 'Theoretical Quantiles', xTitleDx: 0,
      yTitle: 'Standardized residuals', yTitleX: 76, yTitleDy: 11,
      xTicks: qqXTicks, xLabels: qqXTickLabels, yTicks: qqYTicks, yLabels: qqYTickLabels,
      ids: [
        { x: 2.84, y: 3.08, text: '384', dx: -5, dy: 5, align: 'right' },
        { x: 3.17, y: 3.30, text: '382', dx: -6.5, dy: 3.5, align: 'right' },
        { x: -3.18, y: -3.14, text: '57', dx: 8.5, dy: 5, align: 'left' }
      ]
    }
  });

  panel('sl', {
    pad: { left: 105.5, top: 48.3, right: 18.5, bottom: 97.3 },
    xr: [7.27, 84.18], yr: [-0.046, 1.91],
    datasets: [smooth(slSmooth), circles(slOuter.concat(slCore, slFill))],
    frame: {
      title: 'Scale\u2212Location', titleDx: 0, titleY: 39,
      xTitle: 'Fitted values', xTitleDx: -5.5,
      yTitle: '\u221A|Standardized residuals|', sqrt: true, yTitleX: 78.5, yTitleDy: 1,
      xTicks: fittedTicks, xLabels: fittedTickLabels, yTicks: slYTicks, yLabels: slYTickLabels,
      ids: [
        { x: 46.0, y: 1.78, text: '384', dx: -11, dy: 4, align: 'right' },
        { x: 47.0, y: 1.85, text: '382', dx: -9, dy: 4.5, align: 'right' },
        { x: 73.7, y: 1.78, text: '57', dx: -7, dy: 3, align: 'right' }
      ]
    }
  });

  panel('lev', {
    pad: { left: 133, top: 49.3, right: 17, bottom: 95.7 },
    xr: [-0.00269, 0.07079], yr: [-4.01, 4.17],
    datasets: [smooth(levSmooth), circles(levOuter.concat(levCore, levFill)),
      dotted([[-0.00269, 0], [0.07079, 0]]), dotted([[0, -4.01], [0, 4.17]])],
    frame: {
      title: 'Residuals vs Leverage', titleDx: -14, titleY: 39,
      xTitle: 'Leverage', xTitleDx: -5.5,
      yTitle: 'Standardized residuals', yTitleX: 76, yTitleDy: 11,
      xTicks: levXTicks, xLabels: levXTickLabels, yTicks: levYTicks, yLabels: levYTickLabels,
      ids: [
        { x: 0.0526, y: -2.91, text: '45', dx: -4, dy: 13.6, align: 'right' },
        { x: 0.0558, y: -3.15, text: '57', dx: -7, dy: 9.4, align: 'right' }
      ],
      cook: true
    }
  });
}

if (document.fonts && document.fonts.load) {
  document.fonts.load('20px "Liberation Serif"').then(draw, draw);
} else {
  draw();
}
</script>
</body>
</html>
